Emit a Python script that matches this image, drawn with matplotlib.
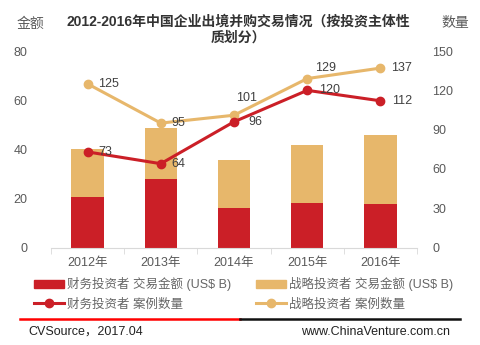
import numpy as np
import matplotlib.pyplot as plt
from matplotlib.lines import Line2D
from matplotlib.patches import Patch

plt.rcParams['font.family'] = ['Liberation Sans', 'Noto Sans CJK SC', 'DejaVu Sans']

years = ["2012年", "2013年", "2014年", "2015年", "2016年"]
fin_amount = [20.7, 27.8, 16.2, 18.0, 17.6]      # 财务投资者 交易金额
stra_amount = [19.4, 20.8, 19.4, 23.7, 28.3]     # 战略投资者 交易金额
fin_count = [73, 64, 96, 120, 112]               # 财务投资者 案例数量
stra_count = [125, 95, 101, 129, 137]            # 战略投资者 案例数量

red = "#CB1F27"
gold = "#E7B76B"
grey = "#595959"

fig = plt.figure(figsize=(4.8, 3.45), dpi=100)
ax = fig.add_axes([0.106, 0.2826, 0.763, 0.5694])
x = np.arange(len(years))

ax.bar(x, fin_amount, width=0.44, color=red)
ax.bar(x, stra_amount, width=0.44, bottom=fin_amount, color=gold)
ax.set_ylim(0, 80)
ax.set_xlim(-0.5, 4.5)
ax.set_yticks([0, 20, 40, 60, 80])
ax.set_xticks(x)
ax.set_xticklabels(years)
ax.set_xticks(np.arange(-0.5, 5, 1), minor=True)
ax.tick_params(axis='y', length=0, pad=17, labelsize=9, labelcolor=grey)
ax.tick_params(axis='x', which='major', length=0, pad=7, labelsize=9, labelcolor=grey)
ax.tick_params(axis='x', which='minor', length=4, color="#D9D9D9")
for s in ['top', 'left', 'right']:
    ax.spines[s].set_visible(False)
ax.spines['bottom'].set_color("#D9D9D9")

ax2 = ax.twinx()
ax2.plot(x, stra_count, color=gold, lw=2.2, marker='o', ms=6)
ax2.plot(x, fin_count, color=red, lw=2.2, marker='o', ms=6)
ax2.set_ylim(0, 150)
ax2.set_yticks([0, 30, 60, 90, 120, 150])
ax2.tick_params(axis='y', length=0, pad=11, labelsize=9, labelcolor=grey)
for s in ['top', 'left', 'right', 'bottom']:
    ax2.spines[s].set_visible(False)

# data labels
offs_fin = [(11, 0), (11, 0), (14, 0), (12, 0), (12, 0)]
offs_stra = [(11, 0), (11, 0), (2, 17), (8, 11), (11, 0)]
for i in range(len(years)):
    ax2.annotate(str(fin_count[i]), (x[i], fin_count[i]), xytext=offs_fin[i],
                 textcoords='offset pixels', ha='left', va='center', fontsize=9, color="#404040")
    ax2.annotate(str(stra_count[i]), (x[i], stra_count[i]), xytext=offs_stra[i],
                 textcoords='offset pixels', ha='left', va='center', fontsize=9, color="#404040")

fig.text(0.496, 0.915, "2012-2016年中国企业出境并购交易情况（按投资主体性\n质划分）",
         ha='center', va='center', fontsize=10, fontweight='bold', color="#333333",
         linespacing=1.15)
fig.text(0.063, 0.932, "金额", ha='center', va='center', fontsize=10, color=grey)
fig.text(0.948, 0.932, "数量", ha='center', va='center', fontsize=10, color=grey)

handles = [Patch(color=red), Line2D([], [], color=red, lw=2.2, marker='o', ms=6),
           Patch(color=gold), Line2D([], [], color=gold, lw=2.2, marker='o', ms=6)]
labels = ["财务投资者 交易金额 (US$ B)", "财务投资者 案例数量",
          "战略投资者 交易金额 (US$ B)", "战略投资者 案例数量"]
leg = fig.legend(handles, labels, ncol=2, loc='center left', bbox_to_anchor=(0.057, 0.148),
                 frameon=False, fontsize=9, handlelength=2.4, handleheight=0.7,
                 handletextpad=0.25, columnspacing=2.0, labelspacing=0.55, borderpad=0)
for t in leg.get_texts():
    t.set_color("#666666")

fig.add_artist(Line2D([20 / 480, 240 / 480], [1 - 319 / 345] * 2, color="#FF0000", lw=1.8))
fig.add_artist(Line2D([240 / 480, 460 / 480], [1 - 319 / 345] * 2, color="#111111", lw=1.8))
fig.text(28 / 480, 1 - 332 / 345, "CVSource，2017.04", ha='left', va='center', fontsize=9, color="#222222")
fig.text(450 / 480, 1 - 332 / 345, "www.ChinaVenture.com.cn", ha='right', va='center', fontsize=9, color="#222222")

fig.savefig("out.png", dpi=100)
